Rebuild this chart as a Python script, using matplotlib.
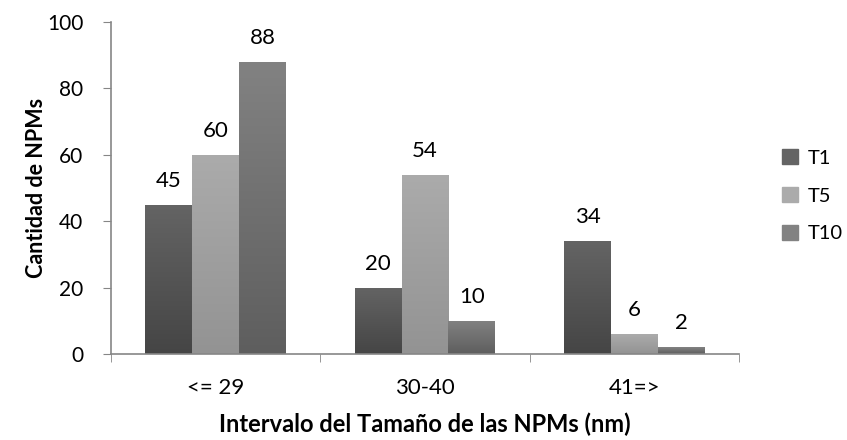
import numpy as np
import matplotlib
matplotlib.use("Agg")
import matplotlib.pyplot as plt
from matplotlib.colors import LinearSegmentedColormap

# datos
categorias = ["<= 29", "30-40", "41=>"]
series = ["T1", "T5", "T10"]
t1 = [45, 20, 34]
t5 = [60, 54, 6]
t10 = [88, 10, 2]
valores = [t1, t5, t10]

# colores (abajo, arriba) para el degradado
colores = [("#454545", "#646464"), ("#939393", "#ababab"), ("#5e5e5e", "#828282")]

plt.rcParams['font.family'] = ['Lato', 'DejaVu Sans']

fig = plt.figure(figsize=(8.47, 4.40), dpi=100)
ax = fig.add_axes([111/847, 1 - 354/440, (739 - 111)/847, (354 - 22)/440])

x = np.arange(len(categorias))
ancho = 0.224
grad = np.linspace(0, 1, 256).reshape(-1, 1)

for i, (nombre, vals) in enumerate(zip(series, valores)):
    pos = x + (i - 1) * ancho
    barras = ax.bar(pos, vals, ancho, color=colores[i][0], label=nombre, zorder=2)
    cmap = LinearSegmentedColormap.from_list("g%d" % i, list(colores[i]))
    for b in barras:
        b.set_facecolor("none")
        b.set_edgecolor("none")
        bx, by = b.get_x(), b.get_y()
        im = ax.imshow(grad, cmap=cmap, origin="lower", aspect="auto",
                       extent=[bx, bx + b.get_width(), by, by + b.get_height()],
                       zorder=2)
        im.set_clip_path(b)
    for p, v in zip(pos, vals):
        ax.annotate(str(v), (p, v), xytext=(0, 10), textcoords="offset points",
                    ha="center", va="bottom", fontsize=16)

ax.set_xlim(-0.5, 2.5)
ax.set_ylim(0, 100)
ax.set_yticks(range(0, 101, 20))
ax.set_xticks(x)
ax.set_xticklabels(categorias)
ax.set_xticks([-0.5, 0.5, 1.5, 2.5], minor=True)
ax.tick_params(axis="x", which="major", length=0, pad=17, labelsize=16)
ax.tick_params(axis="x", which="minor", length=6, color="#868686", direction="out")
ax.tick_params(axis="y", length=6, color="#868686", direction="out", labelsize=15, pad=14)

for s in ["top", "right"]:
    ax.spines[s].set_visible(False)
for s in ["left", "bottom"]:
    ax.spines[s].set_color("#868686")
    ax.spines[s].set_linewidth(1.2)

ax.set_xlabel("Intervalo del Tamaño de las NPMs (nm)", fontsize=17, fontweight="bold", labelpad=11)
ax.set_ylabel("Cantidad de NPMs", fontsize=15.5, fontweight="bold", labelpad=0)

handles = [plt.Rectangle((0, 0), 1, 1, color=c[1]) for c in colores]
fig.legend(handles, series, loc="upper left", bbox_to_anchor=(774/847, 1 - 141/440),
           frameon=False, fontsize=14.5, handlelength=0.8, handleheight=0.8,
           handletextpad=0.5, labelspacing=1.0, borderaxespad=0)

fig.savefig("out.png", dpi=100)
